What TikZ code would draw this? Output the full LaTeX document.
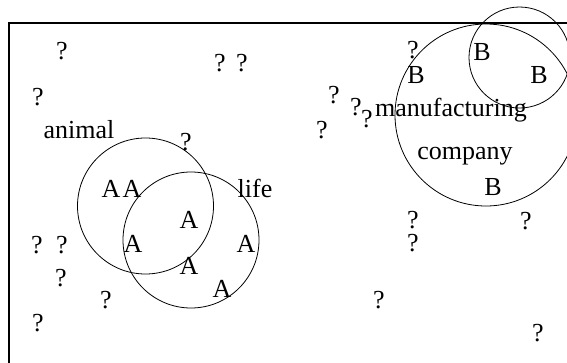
\documentclass[tikz,border=0pt]{standalone}
\usepackage{fontspec}
\setmainfont{Liberation Serif}
\begin{document}
\begin{tikzpicture}[x=1pt,y=-1pt,
  txt/.style={font=\fontsize{26}{28}\selectfont, inner sep=0pt, anchor=base},
  ring/.style={draw, circle, line width=0.8pt, inner sep=0pt}]
\useasboundingbox (0,0) rectangle (567,362);
\clip (0,0) rectangle (567,362);
% frame
\coordinate (fTR) at (575,23);
\coordinate (fTL) at (9,23);
\coordinate (fBL) at (9,370);
\draw[line width=2pt] (fTR) -- (fTL) -- (fBL);
% circles
\node[ring, minimum size=136pt] (cAnimal) at (145.5,206) {};
\node[ring, minimum size=136pt] (cLife) at (191,240) {};
\node[ring, minimum size=182pt] (cMfg) at (486,115) {};
\node[ring, minimum size=101pt] (cB) at (519.5,57.5) {};
% labels
\node[txt] (animal) at (79,138) {animal};
\node[txt] (life) at (255,197) {life};
\node[txt] (manu) at (451,116) {manufacturing};
\node[txt] (comp) at (465,159) {company};
% A's
\node[txt] (a1) at (111,197) {A};
\node[txt] (a2) at (132,197) {A};
\node[txt] (a3) at (189,228) {A};
\node[txt] (a4) at (133,252) {A};
\node[txt] (a5) at (246,252) {A};
\node[txt] (a6) at (189,274) {A};
\node[txt] (a7) at (222,297) {A};
% B's
\node[txt] (b1) at (416,83) {B};
\node[txt] (b2) at (482,60) {B};
\node[txt] (b3) at (539,83) {B};
\node[txt] (b4) at (493,195) {B};
% question marks
\node[txt] (q1) at (62,59) {?};
\node[txt] (q2) at (220,71) {?};
\node[txt] (q3) at (242,71) {?};
\node[txt] (q4) at (38,105) {?};
\node[txt] (q5) at (186,150) {?};
\node[txt] (q6) at (37,253) {?};
\node[txt] (q7) at (62,253) {?};
\node[txt] (q8) at (61,286) {?};
\node[txt] (q9) at (106,308) {?};
\node[txt] (q10) at (38,331) {?};
\node[txt] (q11) at (413,58) {?};
\node[txt] (q12) at (334,103) {?};
\node[txt] (q13) at (356,115) {?};
\node[txt] (q14) at (367,127) {?};
\node[txt] (q15) at (322,138) {?};
\node[txt] (q16) at (413,228) {?};
\node[txt] (q17) at (413,251) {?};
\node[txt] (q18) at (526,229) {?};
\node[txt] (q19) at (379,308) {?};
\node[txt] (q20) at (538,341) {?};
\end{tikzpicture}
\end{document}
